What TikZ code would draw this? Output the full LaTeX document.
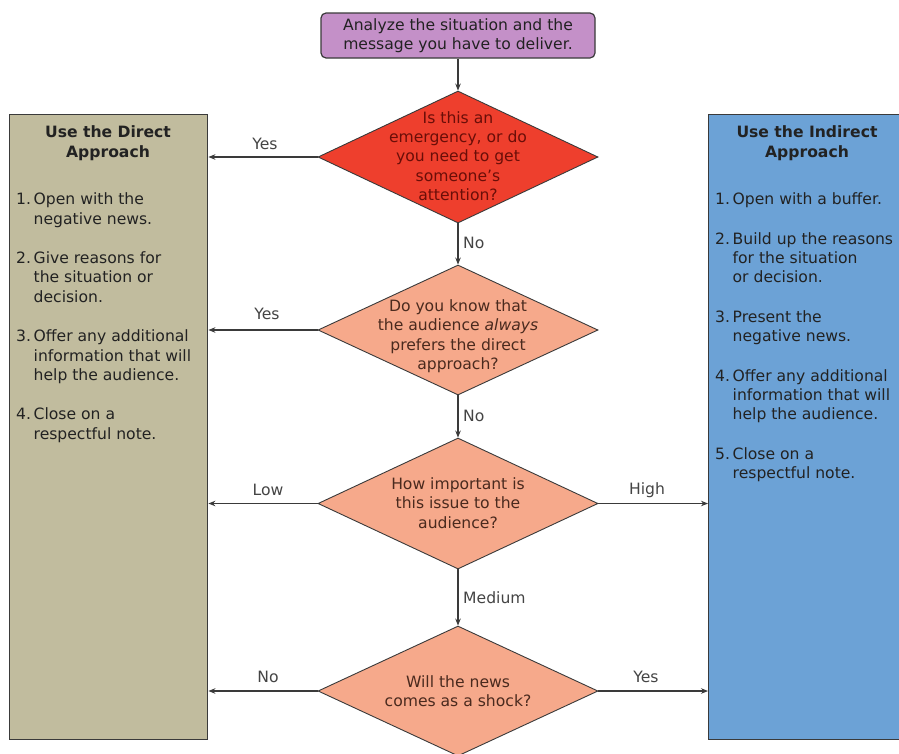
\documentclass[tikz,border=0pt]{standalone}
\usepackage{fontspec}
\setmainfont{DejaVu Sans}
\usetikzlibrary{shapes.geometric,arrows.meta}
\definecolor{purplebox}{HTML}{C490C8}
\definecolor{khaki}{HTML}{C1BC9E}
\definecolor{bluebox}{HTML}{6CA2D6}
\definecolor{redd}{HTML}{EE3F2D}
\definecolor{salmon}{HTML}{F6A98B}
\definecolor{edge}{HTML}{3A3A3A}
\definecolor{txt}{HTML}{222222}
\definecolor{redtxt}{HTML}{6A0E08}
\definecolor{brtxt}{HTML}{4A2A1E}
\definecolor{lbl}{HTML}{444444}
\begin{document}
\begin{tikzpicture}[x=1pt,y=-1pt,
  basefont/.style={font=\fontsize{15.6}{19.4}\selectfont},
  panel/.style={draw=edge,line width=1.4pt,minimum width=198pt,minimum height=625pt,anchor=north west,inner sep=0pt},
  dia/.style={diamond,draw=edge,line width=0.9pt,minimum width=280pt,inner sep=0pt},
  diatext/.style={basefont,align=center,text=brtxt,inner sep=0pt},
  listtxt/.style={basefont,text=txt,inner sep=0pt,anchor=north west},
  headtxt/.style={font=\fontsize{15.6}{19.4}\selectfont\bfseries,text=txt,align=center,inner sep=0pt},
  lab/.style={basefont,text=lbl,inner sep=0pt},
  arr/.style={draw=edge,line width=1.1pt,-{Stealth[length=7pt,width=5.5pt]}}
]
\useasboundingbox (0,0) rectangle (899,753);
\begin{scope}
\clip (0,0) rectangle (899,753);
% panels
\node[panel,fill=khaki] (L) at (9,114) {};
\node[panel,fill=bluebox] (R) at (708,114) {};
\node[headtxt] (Lh) at (108,143) {Use the Direct\\Approach};
\node[headtxt] (Rh) at (807,143) {Use the Indirect\\Approach};
\node[listtxt] (Lt) at (16,191) {%
\begin{tabular}{@{}l@{\,}l@{}}
1.&Open with the\\
&negative news.\\[20pt]
2.&Give reasons for\\
&the situation or\\
&decision.\\[20pt]
3.&Offer any additional\\
&information that will\\
&help the audience.\\[20pt]
4.&Close on a\\
&respectful note.
\end{tabular}};
\node[listtxt] (Rt) at (715,191) {%
\begin{tabular}{@{}l@{\,}l@{}}
1.&Open with a buffer.\\[20pt]
2.&Build up the reasons\\
&for the situation\\
&or decision.\\[20pt]
3.&Present the\\
&negative news.\\[20pt]
4.&Offer any additional\\
&information that will\\
&help the audience.\\[20pt]
5.&Close on a\\
&respectful note.
\end{tabular}};
% top box
\node[draw=edge,line width=1.2pt,fill=purplebox,rounded corners=5pt,minimum width=274pt,minimum height=45pt,inner sep=0pt,basefont,text=txt,align=center] (top) at (458,35.5) {Analyze the situation and the\\message you have to deliver.};
% diamonds
\node[dia,fill=redd,minimum height=132pt] (d1) at (458,157) {};
\node[diatext,text=redtxt] (t1) at (458,156) {Is this an\\emergency, or do\\you need to get\\someone's\\attention?};
\node[dia,fill=salmon,minimum height=130pt] (d2) at (458,330) {};
\node[diatext] (t2) at (458,336) {Do you know that\\the audience \textit{always}\\prefers the direct\\approach?};
\node[dia,fill=salmon,minimum height=131pt] (d3) at (458,503.5) {};
\node[diatext] (t3) at (458,503) {How important is\\this issue to the\\audience?};
\node[dia,fill=salmon,minimum height=130pt] (d4) at (458,691) {};
\node[diatext] (t4) at (458,691) {Will the news\\comes as a shock?};
% connectors
\draw[arr] (top.south) -- (d1.north);
\draw[arr] (d1.south) -- (d2.north);
\draw[arr] (d2.south) -- (d3.north);
\draw[arr] (d3.south) -- (d4.north);
\draw[arr] (d1.west) -- (L.east |- d1.west);
\draw[arr] (d2.west) -- (L.east |- d2.west);
\draw[arr] (d3.west) -- (L.east |- d3.west);
\draw[arr] (d4.west) -- (L.east |- d4.west);
\draw[arr] (d3.east) -- (R.west |- d3.east);
\draw[arr] (d4.east) -- (R.west |- d4.east);
% labels
\node[lab] (y1) at (265,144) {Yes};
\node[lab,anchor=west] (n1) at (463,243) {No};
\node[lab] (y2) at (267,314) {Yes};
\node[lab,anchor=west] (n2) at (463,416) {No};
\node[lab] (lo) at (268,490) {Low};
\node[lab] (hi) at (647,490) {High};
\node[lab,anchor=west] (md) at (463,598) {Medium};
\node[lab] (n3) at (268,677) {No};
\node[lab] (y3) at (646,677) {Yes};
\end{scope}
\end{tikzpicture}
\end{document}
